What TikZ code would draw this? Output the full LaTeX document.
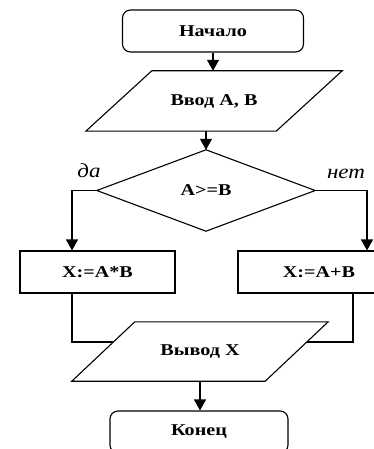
\documentclass[tikz,border=0pt]{standalone}
\usepackage{fontspec}
\setmainfont{Liberation Serif}[FakeStretch=1.22]
\newfontfamily\handfont{Liberation Serif}[FakeStretch=1.15]
\usetikzlibrary{arrows.meta,calc}
\tikzstyle{terminal}=[rectangle, draw, rounded corners=8pt, minimum width=181pt, minimum height=42pt, inner sep=0pt, line width=1.1pt, font=\fontsize{16.5}{18}\selectfont\bfseries]
\tikzstyle{io}=[rectangle, minimum width=256pt, minimum height=60pt, inner sep=0pt, font=\fontsize{16.5}{18}\selectfont\bfseries]
\tikzstyle{decision}=[rectangle, minimum width=218pt, minimum height=81pt, inner sep=0pt, font=\fontsize{16.5}{18}\selectfont\bfseries]
\tikzstyle{process}=[rectangle, draw, minimum height=42pt, inner sep=0pt, line width=1.1pt, font=\fontsize{16.5}{18}\selectfont\bfseries]
\tikzstyle{flow}=[line width=1.1pt]
\tikzstyle{arrow}=[flow, -{Triangle[width=12pt,length=11pt]}]
\tikzstyle{hand}=[font=\handfont\itshape\fontsize{20}{20}\selectfont]

\begin{document}
\begin{tikzpicture}[x=1pt,y=-1pt]
				\useasboundingbox (0,0) rectangle (374,449);
				\clip (0,0) rectangle (374,449);
				\node[terminal] (start) at (213,31) {Начало};
				\node[io] (input) at (214,101) {Ввод A, B};
				\node[decision] (dec) at (206,190.5) {A>=B};
				\node[process, minimum width=155pt] (yes) at (97.5,272) {X:=A*B};
				\node[process, minimum width=162pt] (no) at (319,272) {X:=A+B};
				\node[io, minimum height=59pt] (out) at (200,351.5) {Вывод X};
				\node[terminal, minimum width=178pt] (end) at (199,432) {Конец};
				
				\draw[flow] ([xshift=66pt]input.north west) -- (input.north east) -- ([xshift=-66pt]input.south east) -- (input.south west) -- cycle;
				\draw[flow] (dec.north) -- (dec.east) -- (dec.south) -- (dec.west) -- cycle;
				\draw[flow] ([xshift=63pt]out.north west) -- (out.north east) -- ([xshift=-63pt]out.south east) -- (out.south west) -- cycle;
				
				\node[hand] (lyes) at (89,171) {да};
				\node[hand] (lno) at (346,174) {нет};
				
				\draw[arrow] (start.south) -- (start.south |- input.north);
				\draw[arrow] (dec.north |- input.south) -- (dec.north);
				\draw[arrow] (dec.west) -| ([xshift=-25.5pt]yes.north);
				\draw[arrow] (dec.east) -| ([xshift=48pt]no.north);
				\draw[flow] ([xshift=-25.5pt]yes.south) |- ($([xshift=63pt]out.north west)!0.34!(out.south west)$);
				\draw[flow] ([xshift=34pt]no.south) |- ($(out.north east)!0.34!([xshift=-63pt]out.south east)$);
				\draw[arrow] (out.south) -- (out.south |- end.north);
			\end{tikzpicture}
\end{document}
